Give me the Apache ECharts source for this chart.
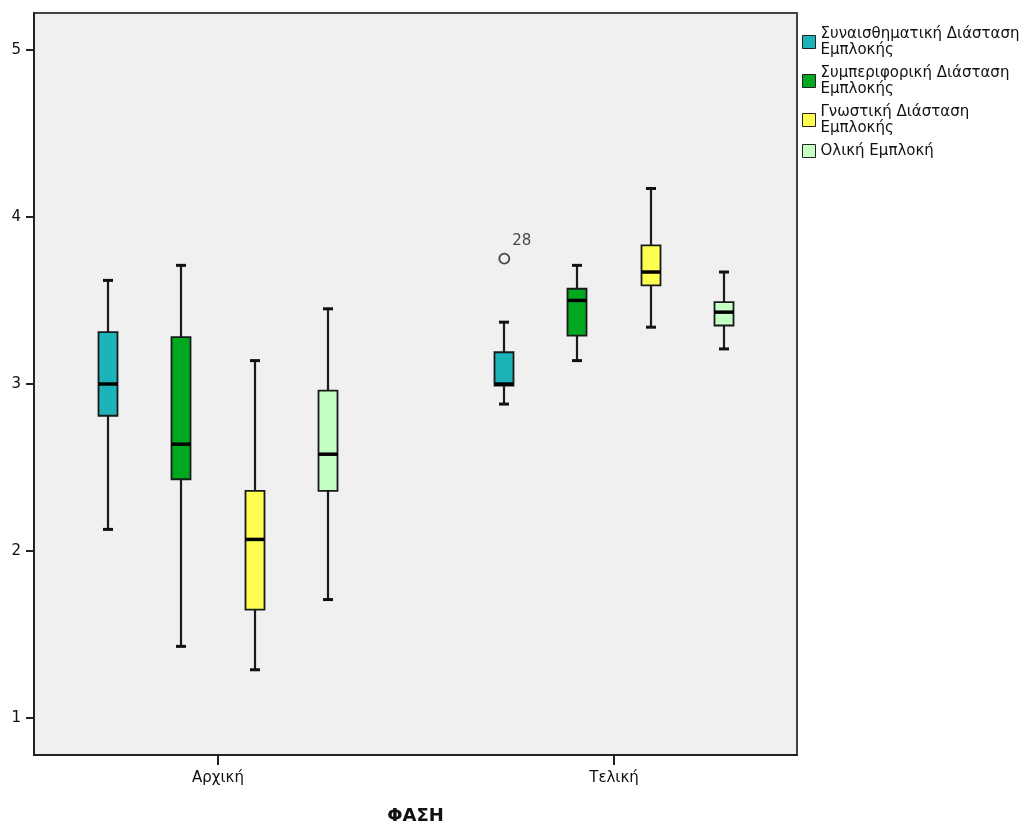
<!DOCTYPE html>
<html>
<head>
<meta charset="utf-8">
<script src="https://cdn.jsdelivr.net/npm/echarts@6/dist/echarts.min.js"></script>
<style>
    html, body { margin: 0; padding: 0; background: #fff; }
    #main { width: 1034px; height: 827px; }
</style>
</head>
<body>
<div id="main"></div>
<script>
// categories on the x axis
var categories = ['Αρχική', 'Τελική'];
var seriesNames = [
    'Συναισθηματική Διάσταση\nΕμπλοκής',
    'Συμπεριφορική Διάσταση\nΕμπλοκής',
    'Γνωστική Διάσταση\nΕμπλοκής',
    'Ολική Εμπλοκή'
];
// [min, Q1, median, Q3, max] for Αρχική, Τελική
var emotional  = [[2.13, 2.81, 3.00, 3.31, 3.62], [2.88, 2.99, 3.00, 3.19, 3.37]];
var behavioral = [[1.43, 2.43, 2.64, 3.28, 3.71], [3.14, 3.29, 3.50, 3.57, 3.71]];
var cognitive  = [[1.29, 1.65, 2.07, 2.36, 3.14], [3.34, 3.59, 3.67, 3.83, 4.17]];
var overall    = [[1.71, 2.36, 2.58, 2.96, 3.45], [3.21, 3.35, 3.43, 3.49, 3.67]];
// outliers: series index, category index, value, case label
var outliers = [[0, 1, 3.75, '28']];
var yTicks = [1, 2, 3, 4, 5];

var colors = ['#1db4b9', '#00a820', '#ffff52', '#c4ffc4'];
var offsets = [-0.277, -0.0925, 0.0925, 0.277];
var font = 'DejaVu Sans, Verdana, sans-serif';

var myChart = echarts.init(document.getElementById('main'));

function makeRender(offset) {
    return function(params, api) {
        var x = api.value(0) + offset;
        var pMin = api.coord([x, api.value(1)]);
        var pQ1 = api.coord([x, api.value(2)]);
        var pMed = api.coord([x, api.value(3)]);
        var pQ3 = api.coord([x, api.value(4)]);
        var pMax = api.coord([x, api.value(5)]);
        var cx = Math.round(pMin[0]);
        var half = 9.5, cap = 5;
        var wStyle = { stroke: '#1a1a1a', lineWidth: 2.2 };
        var cStyle = { stroke: '#111', lineWidth: 3 };
        return {
            type: 'group',
            children: [
                { type: 'line', shape: { x1: cx, y1: pQ3[1], x2: cx, y2: pMax[1] }, style: wStyle },
                { type: 'line', shape: { x1: cx, y1: pQ1[1], x2: cx, y2: pMin[1] }, style: wStyle },
                { type: 'line', shape: { x1: cx - cap, y1: pMax[1], x2: cx + cap, y2: pMax[1] }, style: cStyle },
                { type: 'line', shape: { x1: cx - cap, y1: pMin[1], x2: cx + cap, y2: pMin[1] }, style: cStyle },
                {
                    type: 'rect',
                    shape: { x: cx - half, y: pQ3[1], width: half * 2, height: pQ1[1] - pQ3[1] },
                    style: { fill: api.visual('color'), stroke: '#1a1a1a', lineWidth: 1.8 }
                },
                { type: 'line', shape: { x1: cx - half, y1: pMed[1], x2: cx + half, y2: pMed[1] }, style: { stroke: '#000', lineWidth: 3.5 } }
            ]
        };
    };
}

var allBoxes = [emotional, behavioral, cognitive, overall];
var series = [];
allBoxes.forEach(function(boxes, s) {
    series.push({
        name: seriesNames[s],
        type: 'custom',
        renderItem: makeRender(offsets[s]),
        itemStyle: { color: colors[s], borderColor: '#222', borderWidth: 1 },
        encode: { x: 0, y: [1, 2, 3, 4, 5] },
        data: boxes.map(function(b, i) { return [i].concat(b); }),
        z: 3
    });
});

series.push({
    type: 'scatter',
    symbol: 'circle',
    symbolSize: 10,
    itemStyle: { color: 'transparent', borderColor: '#1a1a1a', borderWidth: 1.8 },
    label: {
        show: true,
        position: 'right',
        distance: 2,
        offset: [0, -18],
        color: '#1a1a1a',
        fontSize: 15,
        fontFamily: font,
        formatter: function(p) { return p.data[2]; }
    },
    data: outliers.map(function(o) {
        return [o[1] + offsets[o[0]], o[2], o[3]];
    }),
    z: 4
});

var option = {
    animation: false,
    backgroundColor: '#fff',
    grid: {
        left: 34,
        top: 13,
        right: 237,
        bottom: 72,
        outerBoundsMode: 'none',
        containLabel: false,
        show: true,
        backgroundColor: '#f0f0f0',
        borderColor: '#444',
        borderWidth: 2
    },
    legend: {
        orient: 'vertical',
        left: 797,
        top: 21,
        icon: 'rect',
        itemWidth: 13,
        itemHeight: 13,
        itemGap: 7,
        itemStyle: { borderColor: '#222', borderWidth: 1 },
        data: seriesNames,
        textStyle: {
            color: '#111',
            fontSize: 15,
            lineHeight: 16,
            fontFamily: font
        }
    },
    xAxis: {
        type: 'value',
        min: -0.4646,
        max: 1.4621,
        name: 'ΦΑΣΗ',
        nameLocation: 'middle',
        nameGap: 52,
        nameTextStyle: { color: '#111', fontSize: 18, fontWeight: 'bold', fontFamily: font },
        splitLine: { show: false },
        axisLine: { onZero: false, lineStyle: { color: '#222', width: 2 } },
        axisTick: { customValues: [0, 1], length: 10, lineStyle: { color: '#222', width: 2 } },
        axisLabel: {
            customValues: [0, 1],
            margin: 16,
            color: '#111',
            fontSize: 15,
            fontFamily: font,
            formatter: function(v) { return categories[Math.round(v)]; }
        }
    },
    yAxis: {
        type: 'value',
        min: 0.78,
        max: 5.22,
        splitLine: { show: false },
        axisLine: { show: true, onZero: false, lineStyle: { color: '#222', width: 2 } },
        axisTick: { show: true, customValues: yTicks, length: 8, lineStyle: { color: '#222', width: 2 } },
        axisLabel: {
            customValues: yTicks,
            margin: 13,
            color: '#111',
            fontSize: 15,
            fontFamily: font
        }
    },
    series: series
};

myChart.setOption(option);
</script>
</body>
</html>
